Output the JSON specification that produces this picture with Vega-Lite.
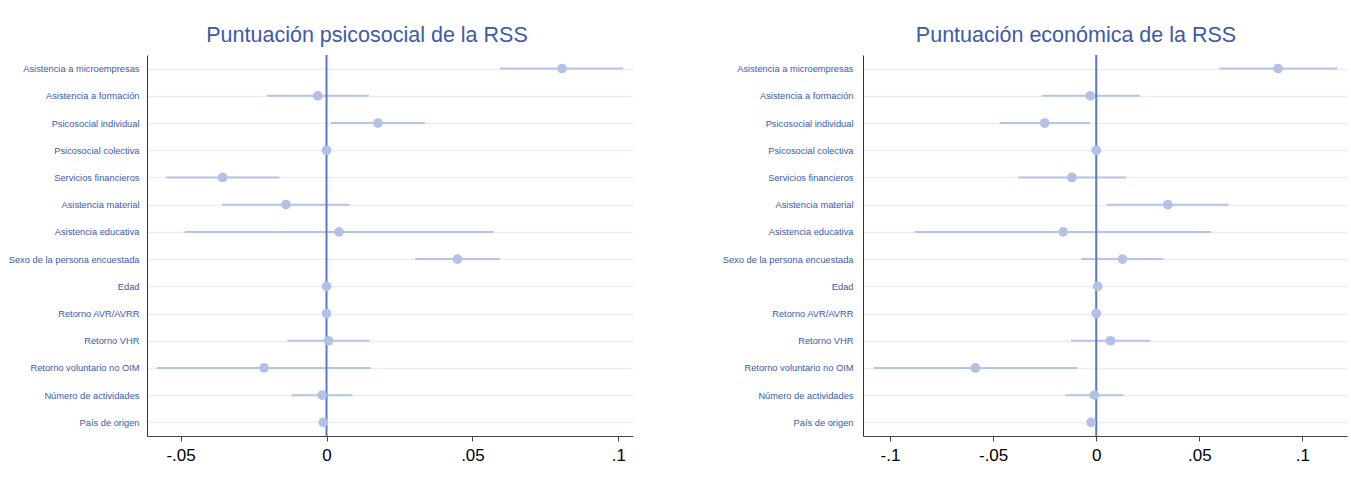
{
  "$schema": "https://vega.github.io/schema/vega-lite/v6.json",
  "padding": {"left": 5, "right": 5, "top": 24, "bottom": 5},
  "background": "white",
  "spacing": 89,
  "datasets": {
    "psi": [
      {"var": "Asistencia a microempresas", "est": 0.0807, "lo": 0.0594, "hi": 0.1016},
      {"var": "Asistencia a formación", "est": -0.0030, "lo": -0.0205, "hi": 0.0145},
      {"var": "Psicosocial individual", "est": 0.0176, "lo": 0.0015, "hi": 0.0337},
      {"var": "Psicosocial colectiva", "est": 0.0000, "lo": -0.0004, "hi": 0.0004},
      {"var": "Servicios financieros", "est": -0.0356, "lo": -0.0549, "hi": -0.0162},
      {"var": "Asistencia material", "est": -0.0139, "lo": -0.0358, "hi": 0.0079},
      {"var": "Asistencia educativa", "est": 0.0043, "lo": -0.0485, "hi": 0.0573},
      {"var": "Sexo de la persona encuestada", "est": 0.0449, "lo": 0.0304, "hi": 0.0594},
      {"var": "Edad", "est": 0.0000, "lo": -0.0003, "hi": 0.0003},
      {"var": "Retorno AVR/AVRR", "est": 0.0000, "lo": -0.0003, "hi": 0.0003},
      {"var": "Retorno VHR", "est": 0.0007, "lo": -0.0134, "hi": 0.0147},
      {"var": "Retorno voluntario no OIM", "est": -0.0214, "lo": -0.0581, "hi": 0.0151},
      {"var": "Número de actividades", "est": -0.0015, "lo": -0.0120, "hi": 0.0089},
      {"var": "País de origen", "est": -0.0011, "lo": -0.0013, "hi": -0.0009}
    ],
    "eco": [
      {"var": "Asistencia a microempresas", "est": 0.0882, "lo": 0.0598, "hi": 0.1168},
      {"var": "Asistencia a formación", "est": -0.0029, "lo": -0.0265, "hi": 0.0210},
      {"var": "Psicosocial individual", "est": -0.0250, "lo": -0.0468, "hi": -0.0031},
      {"var": "Psicosocial colectiva", "est": 0.0000, "lo": -0.0004, "hi": 0.0004},
      {"var": "Servicios financieros", "est": -0.0118, "lo": -0.0379, "hi": 0.0145},
      {"var": "Asistencia material", "est": 0.0347, "lo": 0.0051, "hi": 0.0642},
      {"var": "Asistencia educativa", "est": -0.0160, "lo": -0.0880, "hi": 0.0556},
      {"var": "Sexo de la persona encuestada", "est": 0.0127, "lo": -0.0072, "hi": 0.0325},
      {"var": "Edad", "est": 0.0007, "lo": 0.0004, "hi": 0.0010},
      {"var": "Retorno AVR/AVRR", "est": 0.0000, "lo": -0.0003, "hi": 0.0003},
      {"var": "Retorno VHR", "est": 0.0069, "lo": -0.0122, "hi": 0.0260},
      {"var": "Retorno voluntario no OIM", "est": -0.0586, "lo": -0.1079, "hi": -0.0092},
      {"var": "Número de actividades", "est": -0.0009, "lo": -0.0150, "hi": 0.0132},
      {"var": "País de origen", "est": -0.0025, "lo": -0.0027, "hi": -0.0023}
    ]
  },
  "config": {
    "view": {"stroke": null},
    "font": "Liberation Sans",
    "title": {"fontSize": 21.5, "font": "Liberation Sans", "color": "#3d5aa9", "fontWeight": "normal", "anchor": "middle", "frame": "group", "offset": 8},
    "axisX": {"grid": false, "domainColor": "#444444", "domainWidth": 1, "tickColor": "#444444", "tickSize": 5, "tickWidth": 1, "labelFontSize": 17, "labelColor": "#000000", "labelPadding": 6, "title": null, "labelFont": "Liberation Sans", "labelFlush": false},
    "axisY": {"grid": true, "gridColor": "#e7eef3", "gridWidth": 1.5, "ticks": false, "domainColor": "#333333", "domainWidth": 1, "labelFontSize": 9.3, "labelColor": "#3a5aac", "title": null, "labelFont": "Liberation Sans"}
  },
  "hconcat": [
    {
      "width": 486,
      "height": 381,
      "title": {"text": "Puntuación psicosocial de la RSS", "dx": -23},
      "layer": [
        {
          "data": {"name": "psi"},
          "mark": {"type": "rule", "color": "#b6c4e7", "strokeWidth": 2},
          "encoding": {
            "y": {"field": "var", "type": "nominal", "sort": ["Asistencia a microempresas", "Asistencia a formación", "Psicosocial individual", "Psicosocial colectiva", "Servicios financieros", "Asistencia material", "Asistencia educativa", "Sexo de la persona encuestada", "Edad", "Retorno AVR/AVRR", "Retorno VHR", "Retorno voluntario no OIM", "Número de actividades", "País de origen"], "scale": {"type": "point", "padding": 0.5}, "axis": {"labelPadding": 8, "minExtent": 142, "maxExtent": 142}},
            "x": {"field": "lo", "type": "quantitative", "scale": {"domain": [-0.0615, 0.105], "nice": false, "zero": false}, "axis": {"values": [-0.05, 0, 0.05, 0.1], "labelExpr": "datum.value == 0 ? '0' : replace(datum.value + '', '0.', '.')"}},
            "x2": {"field": "hi"}
          }
        },
        {
          "data": {"values": [{"ref": 0}]},
          "mark": {"type": "rule", "color": "#5b78c6", "strokeWidth": 2},
          "encoding": {
            "x": {"field": "ref", "type": "quantitative", "scale": {"domain": [-0.0615, 0.105], "nice": false, "zero": false}, "axis": {"values": [-0.05, 0, 0.05, 0.1], "labelExpr": "datum.value == 0 ? '0' : replace(datum.value + '', '0.', '.')"}}
          }
        },
        {
          "data": {"name": "psi"},
          "mark": {"type": "point", "filled": true, "size": 95, "color": "#b3c1e5", "opacity": 1},
          "encoding": {
            "y": {"field": "var", "type": "nominal", "sort": ["Asistencia a microempresas", "Asistencia a formación", "Psicosocial individual", "Psicosocial colectiva", "Servicios financieros", "Asistencia material", "Asistencia educativa", "Sexo de la persona encuestada", "Edad", "Retorno AVR/AVRR", "Retorno VHR", "Retorno voluntario no OIM", "Número de actividades", "País de origen"], "scale": {"type": "point", "padding": 0.5}, "axis": {"labelPadding": 8, "minExtent": 142, "maxExtent": 142}},
            "x": {"field": "est", "type": "quantitative", "scale": {"domain": [-0.0615, 0.105], "nice": false, "zero": false}, "axis": {"values": [-0.05, 0, 0.05, 0.1], "labelExpr": "datum.value == 0 ? '0' : replace(datum.value + '', '0.', '.')"}}
          }
        }
      ]
    },
    {
      "width": 484,
      "height": 381,
      "title": {"text": "Puntuación económica  de la RSS", "dx": -29},
      "layer": [
        {
          "data": {"name": "eco"},
          "mark": {"type": "rule", "color": "#b6c4e7", "strokeWidth": 2},
          "encoding": {
            "y": {"field": "var", "type": "nominal", "sort": ["Asistencia a microempresas", "Asistencia a formación", "Psicosocial individual", "Psicosocial colectiva", "Servicios financieros", "Asistencia material", "Asistencia educativa", "Sexo de la persona encuestada", "Edad", "Retorno AVR/AVRR", "Retorno VHR", "Retorno voluntario no OIM", "Número de actividades", "País de origen"], "scale": {"type": "point", "padding": 0.5}, "axis": {"labelPadding": 10, "minExtent": 140, "maxExtent": 140}},
            "x": {"field": "lo", "type": "quantitative", "scale": {"domain": [-0.1131, 0.1216], "nice": false, "zero": false}, "axis": {"values": [-0.1, -0.05, 0, 0.05, 0.1], "labelExpr": "datum.value == 0 ? '0' : replace(datum.value + '', '0.', '.')"}},
            "x2": {"field": "hi"}
          }
        },
        {
          "data": {"values": [{"ref": 0}]},
          "mark": {"type": "rule", "color": "#5b78c6", "strokeWidth": 2},
          "encoding": {
            "x": {"field": "ref", "type": "quantitative", "scale": {"domain": [-0.1131, 0.1216], "nice": false, "zero": false}, "axis": {"values": [-0.1, -0.05, 0, 0.05, 0.1], "labelExpr": "datum.value == 0 ? '0' : replace(datum.value + '', '0.', '.')"}}
          }
        },
        {
          "data": {"name": "eco"},
          "mark": {"type": "point", "filled": true, "size": 95, "color": "#b3c1e5", "opacity": 1},
          "encoding": {
            "y": {"field": "var", "type": "nominal", "sort": ["Asistencia a microempresas", "Asistencia a formación", "Psicosocial individual", "Psicosocial colectiva", "Servicios financieros", "Asistencia material", "Asistencia educativa", "Sexo de la persona encuestada", "Edad", "Retorno AVR/AVRR", "Retorno VHR", "Retorno voluntario no OIM", "Número de actividades", "País de origen"], "scale": {"type": "point", "padding": 0.5}, "axis": {"labelPadding": 10, "minExtent": 140, "maxExtent": 140}},
            "x": {"field": "est", "type": "quantitative", "scale": {"domain": [-0.1131, 0.1216], "nice": false, "zero": false}, "axis": {"values": [-0.1, -0.05, 0, 0.05, 0.1], "labelExpr": "datum.value == 0 ? '0' : replace(datum.value + '', '0.', '.')"}}
          }
        }
      ]
    }
  ]
}
